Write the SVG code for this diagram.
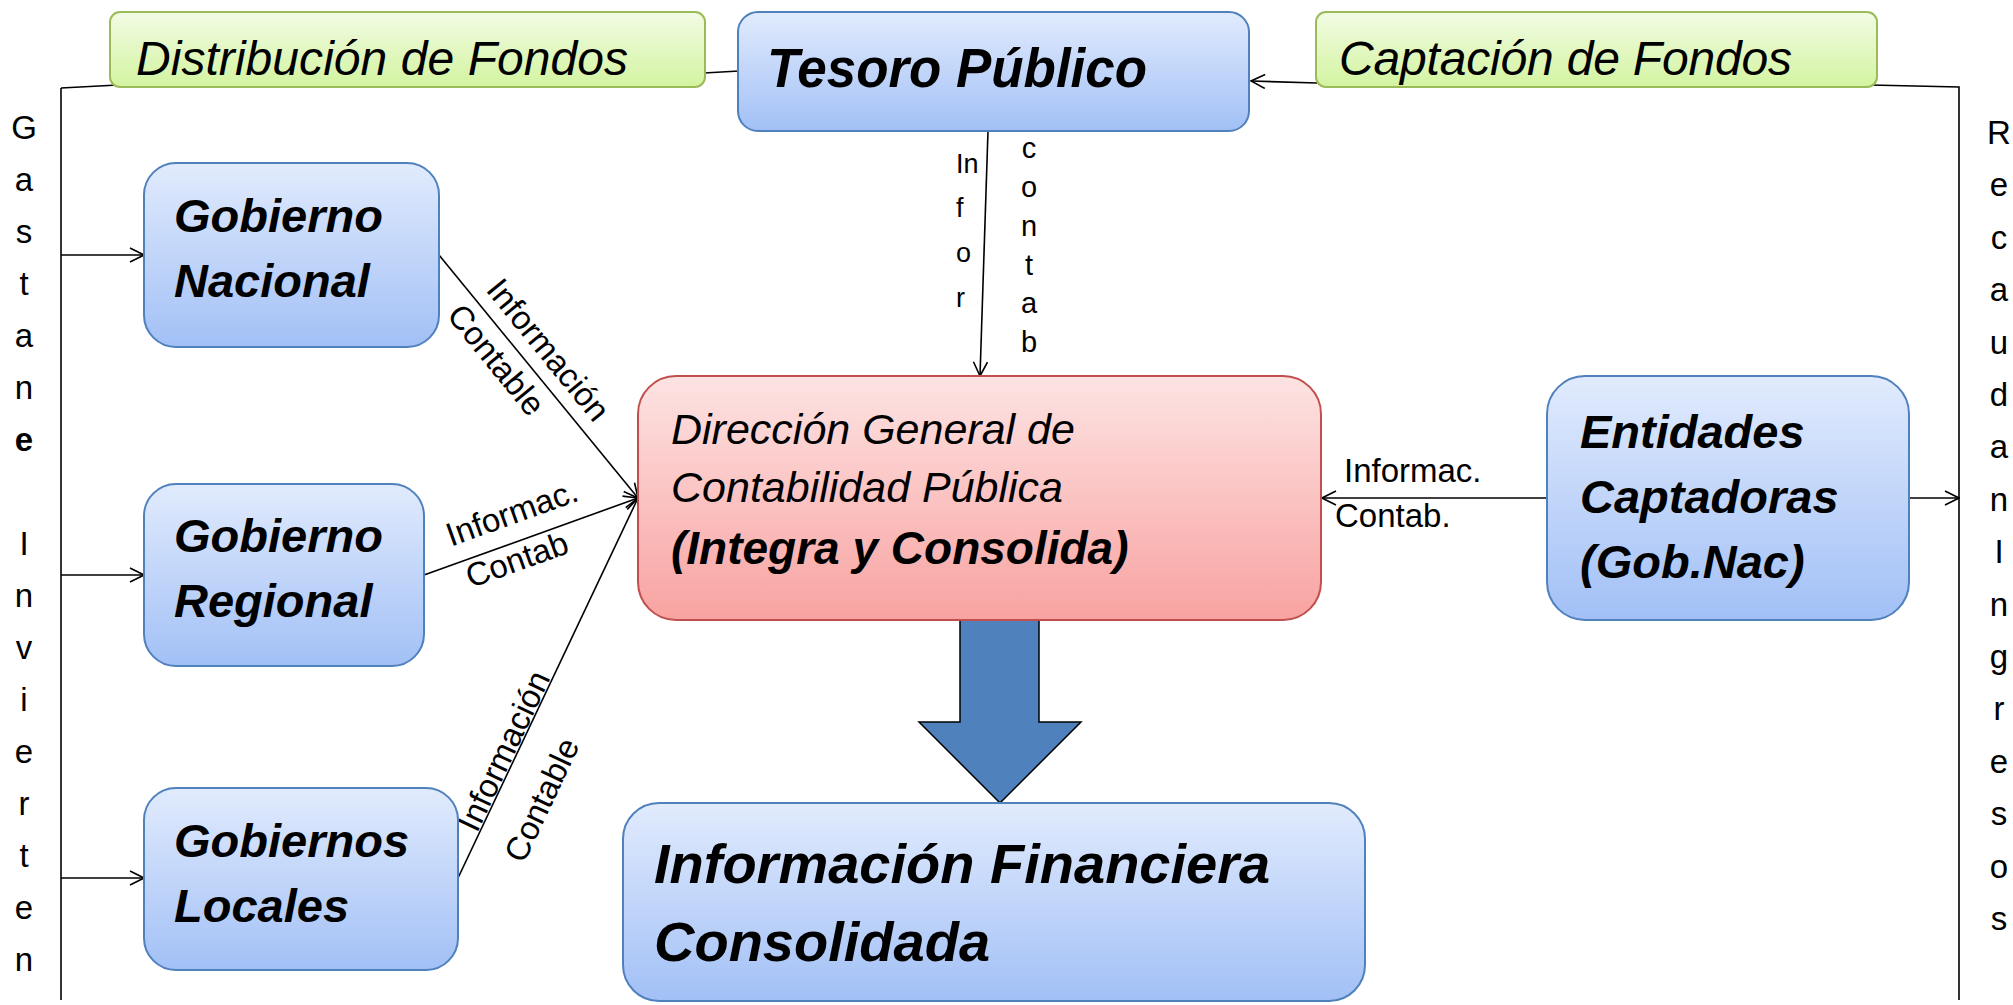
<svg xmlns="http://www.w3.org/2000/svg" width="2013" height="1005" viewBox="0 0 2013 1005">
<defs>
<linearGradient id="gBlue" x1="0" y1="0" x2="0" y2="1"><stop offset="0" stop-color="#e1ebfd"/><stop offset="1" stop-color="#a2c0f6"/></linearGradient>
<linearGradient id="gRed" x1="0" y1="0" x2="0" y2="1"><stop offset="0" stop-color="#fde3e3"/><stop offset="1" stop-color="#f8a3a1"/></linearGradient>
<linearGradient id="gGreen" x1="0" y1="0" x2="0" y2="1"><stop offset="0" stop-color="#f2fbe4"/><stop offset="1" stop-color="#d3f4a0"/></linearGradient>
<marker id="arr" viewBox="0 0 16 16" refX="15" refY="8" markerWidth="16" markerHeight="16" markerUnits="userSpaceOnUse" orient="auto"><path d="M1,1 L15,8 L1,15" fill="none" stroke="#000" stroke-width="1.6"/></marker>
<style>
.blue{fill:url(#gBlue);stroke:#4f81bd;stroke-width:2}
.red{fill:url(#gRed);stroke:#c0504d;stroke-width:2}
.green{fill:url(#gGreen);stroke:#9bbb59;stroke-width:2}
text{font-family:"Liberation Sans",Arial,sans-serif;fill:#000}
.bi{font-weight:bold;font-style:italic}
.it{font-style:italic}
.big{font-size:47px}
.lbl{font-size:33px}
.col{font-size:33px;text-anchor:middle}
.ln{fill:none;stroke:#000;stroke-width:1.6}
</style>
</defs>

<g id="connectors">
<path class="ln" d="M61,88 L61,1000"/>
<path class="ln" d="M61,88 L118,85"/>
<path class="ln" d="M704,73 L739,71"/>
<path class="ln" d="M1317,83 L1251,81" marker-end="url(#arr)"/>
<path class="ln" d="M1870,85 L1959,87 L1959,1000"/>
<path class="ln" d="M61,255 L144,255" marker-end="url(#arr)"/>
<path class="ln" d="M61,575 L144,575" marker-end="url(#arr)"/>
<path class="ln" d="M61,878 L144,878" marker-end="url(#arr)"/>
<path class="ln" d="M988,131 L980,376" marker-end="url(#arr)"/>
<path class="ln" d="M439,255 L638,498" marker-end="url(#arr)"/>
<path class="ln" d="M424,575 L638,498" marker-end="url(#arr)"/>
<path class="ln" d="M458,878 L638,498" marker-end="url(#arr)"/>
<path class="ln" d="M1547,498 L1322,498" marker-end="url(#arr)"/>
<path class="ln" d="M1909,498 L1959,498" marker-end="url(#arr)"/>
<polygon points="960,620 1039,620 1039,722 1081,722 1000,803 919,722 960,722" fill="#4f81bd" stroke="#000" stroke-width="1.5"/>
<text class="lbl" text-anchor="middle" transform="translate(548,350) rotate(50.7)" y="11">Información</text>
<text class="lbl" text-anchor="middle" transform="translate(496,360) rotate(50.7)" y="11">Contable</text>
<text class="lbl" text-anchor="middle" transform="translate(512,513) rotate(-19.8)" y="11">Informac.</text>
<text class="lbl" text-anchor="middle" transform="translate(517,560) rotate(-19.8)" y="11">Contab</text>
<text class="lbl" text-anchor="middle" transform="translate(504,751) rotate(-64.7)" y="11">Información</text>
<text class="lbl" text-anchor="middle" transform="translate(542,800) rotate(-64.7)" y="11">Contable</text>
<text class="lbl" x="1344" y="482">Informac.</text>
<text class="lbl" x="1335" y="527">Contab.</text>
<g font-size="27px">
<text x="956" y="173">In</text>
<text x="956" y="217">f</text>
<text x="956" y="262">o</text>
<text x="956" y="307">r</text>
</g>
<g font-size="29px" text-anchor="middle">
<text x="1029" y="158">c</text>
<text x="1029" y="197">o</text>
<text x="1029" y="236">n</text>
<text x="1029" y="275">t</text>
<text x="1029" y="313">a</text>
<text x="1029" y="352">b</text>
</g>
</g>

<g id="gastan">
<text class="col" x="24" y="139">G</text>
<text class="col" x="24" y="191">a</text>
<text class="col" x="24" y="243">s</text>
<text class="col" x="24" y="295">t</text>
<text class="col" x="24" y="347">a</text>
<text class="col" x="24" y="399">n</text>
<text class="col" x="24" y="451" font-weight="bold">e</text>
<text class="col" x="24" y="555">I</text>
<text class="col" x="24" y="607">n</text>
<text class="col" x="24" y="659">v</text>
<text class="col" x="24" y="711">i</text>
<text class="col" x="24" y="763">e</text>
<text class="col" x="24" y="815">r</text>
<text class="col" x="24" y="867">t</text>
<text class="col" x="24" y="919">e</text>
<text class="col" x="24" y="971">n</text>
</g>

<g id="recaudan">
<text class="col" x="1999" y="144">R</text>
<text class="col" x="1999" y="196">e</text>
<text class="col" x="1999" y="249">c</text>
<text class="col" x="1999" y="301">a</text>
<text class="col" x="1999" y="354">u</text>
<text class="col" x="1999" y="406">d</text>
<text class="col" x="1999" y="458">a</text>
<text class="col" x="1999" y="511">n</text>
<text class="col" x="1999" y="563">I</text>
<text class="col" x="1999" y="616">n</text>
<text class="col" x="1999" y="668">g</text>
<text class="col" x="1999" y="720">r</text>
<text class="col" x="1999" y="773">e</text>
<text class="col" x="1999" y="825">s</text>
<text class="col" x="1999" y="878">o</text>
<text class="col" x="1999" y="930">s</text>
</g>

<g id="distribucion">
<rect class="green" x="110" y="12" width="595" height="75" rx="10"/>
<text class="it" x="136" y="75" font-size="48px" textLength="492">Distribución de Fondos</text>
</g>

<g id="captacion">
<rect class="green" x="1316" y="12" width="561" height="75" rx="10"/>
<text class="it" x="1339" y="75" font-size="48px" textLength="453">Captación de Fondos</text>
</g>

<g id="tesoro">
<rect class="blue" x="738" y="12" width="511" height="119" rx="20"/>
<text class="bi" x="767" y="87" font-size="55px" textLength="380" lengthAdjust="spacingAndGlyphs">Tesoro Público</text>
</g>

<g id="gob-nacional">
<rect class="blue" x="144" y="163" width="295" height="184" rx="32"/>
<text class="bi big" x="174" y="232">Gobierno</text>
<text class="bi big" x="174" y="297">Nacional</text>
</g>

<g id="gob-regional">
<rect class="blue" x="144" y="484" width="280" height="182" rx="32"/>
<text class="bi big" x="174" y="552">Gobierno</text>
<text class="bi big" x="174" y="617">Regional</text>
</g>

<g id="gob-locales">
<rect class="blue" x="144" y="788" width="314" height="182" rx="32"/>
<text class="bi big" x="174" y="857">Gobiernos</text>
<text class="bi big" x="174" y="922">Locales</text>
</g>

<g id="dgcp">
<rect class="red" x="638" y="376" width="683" height="244" rx="38"/>
<text class="it" x="671" y="444" font-size="43px">Dirección General de</text>
<text class="it" x="671" y="502" font-size="43px">Contabilidad Pública</text>
<text class="bi" x="671" y="564" font-size="46px">(Integra y Consolida)</text>
</g>

<g id="entidades">
<rect class="blue" x="1547" y="376" width="362" height="244" rx="38"/>
<text class="bi big" x="1580" y="448">Entidades</text>
<text class="bi big" x="1580" y="513">Captadoras</text>
<text class="bi big" x="1580" y="578">(Gob.Nac)</text>
</g>

<g id="info-financiera">
<rect class="blue" x="623" y="803" width="742" height="198" rx="36"/>
<text class="bi" x="654" y="883" font-size="56px">Información Financiera</text>
<text class="bi" x="654" y="961" font-size="56px">Consolidada</text>
</g>
</svg>
